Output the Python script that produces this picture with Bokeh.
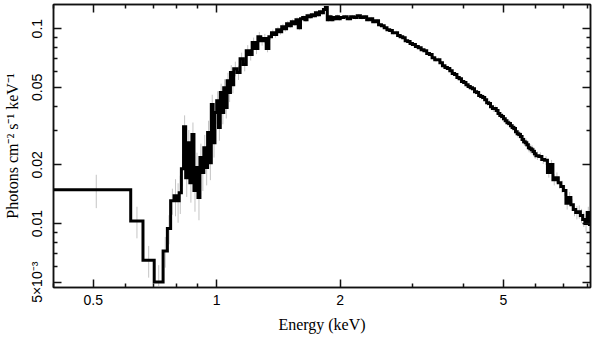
from bokeh.plotting import figure
from bokeh.models import Range1d, LogAxis, FixedTicker, CustomJSTickFormatter, ColumnDataSource
from bokeh.embed import file_html
from bokeh.resources import INLINE

# ---- data: bin lower edges (keV), flux (photons cm^-2 s^-1 keV^-1), 1-sigma errors ----
energy_lo = [
    0.400, 0.617, 0.661, 0.704, 0.740, 0.758, 0.772,
    0.787, 0.80, 0.81, 0.82, 0.83, 0.84, 0.85, 0.86, 0.87, 0.88, 0.89,
    0.90, 0.91, 0.92, 0.93, 0.94, 0.95, 0.96, 0.97, 0.98, 0.99,
    1.00, 1.01, 1.02, 1.03, 1.04, 1.05, 1.06, 1.07, 1.08, 1.09,
    1.10, 1.12, 1.14, 1.16, 1.18, 1.20, 1.22, 1.24, 1.26, 1.28,
    1.30,
    1.32, 1.34, 1.36, 1.38, 1.40, 1.42, 1.44, 1.46, 1.48,
    1.50, 1.52, 1.54, 1.56, 1.58, 1.60, 1.62, 1.64, 1.66, 1.68,
    1.70, 1.72, 1.74, 1.76, 1.78, 1.80, 1.82, 1.84, 1.86, 1.88,
    1.90, 1.92, 1.94, 1.96, 1.98,
    2.00, 2.04, 2.08, 2.12, 2.16, 2.20, 2.24, 2.28, 2.32, 2.36,
    2.40, 2.44, 2.48, 2.52, 2.56, 2.60, 2.64, 2.68, 2.72, 2.76,
    2.80, 2.84, 2.88, 2.92, 2.96,
    3.00, 3.05, 3.10, 3.15, 3.20, 3.25, 3.30, 3.35, 3.40, 3.45,
    3.50, 3.55, 3.60, 3.65, 3.70, 3.75, 3.80, 3.85, 3.90, 3.95,
    4.00, 4.05, 4.10, 4.15, 4.20, 4.25, 4.30, 4.35, 4.40, 4.45,
    4.50, 4.55, 4.60, 4.65, 4.70, 4.75, 4.80, 4.85, 4.90, 4.95,
    5.00, 5.05, 5.10, 5.15, 5.20, 5.25, 5.30, 5.35, 5.40, 5.45,
    5.50, 5.55, 5.60, 5.65, 5.70, 5.75, 5.80, 5.85, 5.90, 5.95,
    6.0, 6.1, 6.2, 6.3, 6.4, 6.5, 6.6, 6.7, 6.8, 6.9,
    7.0, 7.1, 7.2, 7.3, 7.4, 7.5, 7.6, 7.7, 7.8, 7.9,
    8.0, 8.1,
]
energy_hi_last = 8.2

flux = [
    0.0149, 0.0103, 0.00648, 0.00502, 0.00724, 0.00943, 0.0131,
    0.0139, 0.0131, 0.0144, 0.0191, 0.0314, 0.0172, 0.0260, 0.0162, 0.0286, 0.0148, 0.0194,
    0.0136, 0.0218, 0.0183, 0.0245, 0.0194, 0.0293, 0.0205, 0.0408, 0.0260, 0.0371,
    0.0427, 0.0311, 0.0470, 0.0371, 0.0498, 0.0394, 0.0541, 0.0470, 0.0595, 0.0516,
    0.0623, 0.0595, 0.0701, 0.0654, 0.0771, 0.0736, 0.0848, 0.0790, 0.0910, 0.0868,
    0.0890,
    0.0790, 0.0910, 0.0954, 0.0932, 0.0988, 0.0965, 0.1024, 0.1000, 0.1061,
    0.1036, 0.1086, 0.1061, 0.1112, 0.1012, 0.1125, 0.1139, 0.1112, 0.1166, 0.1152,
    0.1180, 0.1166, 0.1208, 0.1180, 0.1222, 0.1208, 0.1252, 0.1282, 0.1112, 0.1152,
    0.1112, 0.1139, 0.1125, 0.1152, 0.1125,
    0.1139, 0.1152, 0.1125, 0.1152, 0.1139, 0.1166, 0.1139, 0.1152, 0.1112, 0.1125,
    0.1086, 0.1099, 0.1048, 0.1036, 0.1012, 0.0988, 0.0977, 0.0954, 0.0954, 0.0921,
    0.0910, 0.0899, 0.0868, 0.0858, 0.0838,
    0.0828, 0.0809, 0.0799, 0.0780, 0.0771, 0.0745, 0.0736, 0.0710, 0.0693, 0.0693,
    0.0669, 0.0646, 0.0631, 0.0624, 0.0609, 0.0588, 0.0581, 0.0561, 0.0554, 0.0535,
    0.0529, 0.0516, 0.0505, 0.0498, 0.0492, 0.0475, 0.0470, 0.0454, 0.0448, 0.0443,
    0.0432, 0.0417, 0.0413, 0.0398, 0.0389, 0.0389, 0.0380, 0.0367, 0.0358, 0.0354,
    0.0345, 0.0337, 0.0329, 0.0326, 0.0318, 0.0311, 0.0307, 0.0296, 0.0289, 0.0286,
    0.0280, 0.0270, 0.0263, 0.0260, 0.0254, 0.0245, 0.0242, 0.0239, 0.0234, 0.0228,
    0.0223, 0.0221, 0.0213, 0.0211, 0.0183, 0.0201, 0.0168, 0.0172, 0.0162, 0.0155,
    0.0148, 0.0127, 0.0136, 0.0125, 0.0118, 0.0114, 0.0115, 0.0110, 0.0105, 0.0100,
    0.0114, 0.0099,
]

flux_err = [
    0.0029, 0.0019, 0.0012, 0.0011, 0.0013, 0.0016, 0.0020,
    0.0030, 0.0030, 0.0032, 0.0036, 0.0045, 0.0035, 0.0042, 0.0034, 0.0044, 0.0033, 0.0037,
    0.0032, 0.0039, 0.0036, 0.0040, 0.0037, 0.0044, 0.0038, 0.0050, 0.0042, 0.0048,
    0.0050, 0.0045, 0.0052, 0.0048, 0.0052, 0.0048, 0.0053, 0.0050, 0.0054, 0.0050,
    0.0054, 0.0050, 0.0052, 0.0050, 0.0052, 0.0050, 0.0052, 0.0050, 0.0052, 0.0050,
    0.0050,
    0.0034, 0.0034, 0.0034, 0.0034, 0.0034, 0.0034, 0.0034, 0.0034, 0.0034,
    0.0030, 0.0030, 0.0030, 0.0030, 0.0030, 0.0030, 0.0030, 0.0030, 0.0030, 0.0030,
    0.0028, 0.0028, 0.0028, 0.0028, 0.0028, 0.0028, 0.0028, 0.0028, 0.0028, 0.0028,
    0.0026, 0.0026, 0.0026, 0.0026, 0.0026,
    0.0024, 0.0024, 0.0024, 0.0024, 0.0024, 0.0024, 0.0024, 0.0024, 0.0024, 0.0024,
    0.0022, 0.0022, 0.0022, 0.0022, 0.0022, 0.0022, 0.0022, 0.0022, 0.0022, 0.0022,
    0.0020, 0.0020, 0.0020, 0.0020, 0.0020,
    0.0018, 0.0018, 0.0018, 0.0018, 0.0018, 0.0018, 0.0018, 0.0018, 0.0018, 0.0018,
    0.0016, 0.0016, 0.0016, 0.0016, 0.0016, 0.0016, 0.0016, 0.0016, 0.0016, 0.0016,
    0.0015, 0.0015, 0.0015, 0.0015, 0.0015, 0.0015, 0.0015, 0.0015, 0.0015, 0.0015,
    0.0015, 0.0015, 0.0015, 0.0015, 0.0015, 0.0015, 0.0015, 0.0015, 0.0015, 0.0015,
    0.0013, 0.0013, 0.0013, 0.0013, 0.0013, 0.0013, 0.0013, 0.0013, 0.0013, 0.0013,
    0.0013, 0.0013, 0.0013, 0.0013, 0.0013, 0.0013, 0.0013, 0.0013, 0.0013, 0.0013,
    0.0011, 0.0011, 0.0011, 0.0011, 0.0011, 0.0011, 0.0011, 0.0011, 0.0011, 0.0011,
    0.0009, 0.0009, 0.0009, 0.0009, 0.0009, 0.0009, 0.0009, 0.0009, 0.0009, 0.0009,
    0.0008, 0.0008,
]

# ---- ticks ----
x_major = [0.5, 1.0, 2.0, 5.0]
x_major_labels = ["0.5", "1", "2", "5"]
x_minor = [0.4, 0.6, 0.7, 0.8, 0.9, 3.0, 4.0, 6.0, 7.0, 8.0]
y_major = [0.005, 0.01, 0.02, 0.05, 0.1]
y_major_labels = ["5×10⁻³", "0.01", "0.02", "0.05", "0.1"]
y_minor = [0.006, 0.007, 0.008, 0.009, 0.03, 0.04, 0.06, 0.07, 0.08, 0.09]

x_label = "Energy (keV)"
y_label = "Photons cm⁻² s⁻¹ keV⁻¹"

# ---- derived sources ----
n = min(len(energy_lo), len(flux), len(flux_err))
edges = energy_lo[:n] + [energy_hi_last]
step_src = ColumnDataSource(dict(x=edges, y=flux[:n] + [flux[n - 1]]))
centers = [0.5 * (edges[i] + edges[i + 1]) for i in range(n)]
err_src = ColumnDataSource(dict(
    x=centers,
    y0=[flux[i] - flux_err[i] for i in range(n)],
    y1=[flux[i] + flux_err[i] for i in range(n)],
))

p = figure(
    width=593, height=341,
    x_axis_type="log", y_axis_type="log",
    x_range=Range1d(0.4, 8.15), y_range=Range1d(0.0047, 0.133),
    output_backend="svg", toolbar_location=None,
    min_border_left=47, min_border_right=3, min_border_top=4, min_border_bottom=54,
    background_fill_color="white", border_fill_color="white",
)
p.grid.visible = False
p.outline_line_color = "#111111"
p.outline_line_width = 1.5

p.segment(x0="x", y0="y0", x1="x", y1="y1", source=err_src,
          line_color="#c4c4c4", line_width=1)
p.step(x="x", y="y", source=step_src, mode="after",
       line_color="black", line_width=3, line_join="miter")

def fmt(vals, labs):
    return CustomJSTickFormatter(args=dict(vals=vals, labs=labs), code="""
        for (let i = 0; i < vals.length; i++) {
            if (Math.abs(tick - vals[i]) <= 1e-6 * vals[i]) { return labs[i]; }
        }
        return "";
    """)

blank = CustomJSTickFormatter(code="return '';")

def style(ax):
    ax.axis_line_color = "#111111"
    ax.axis_line_width = 1.5
    ax.major_tick_line_color = "#111111"
    ax.minor_tick_line_color = "#111111"
    ax.major_tick_line_width = 1.5
    ax.minor_tick_line_width = 1.5
    ax.major_tick_in = 8
    ax.major_tick_out = 0
    ax.minor_tick_in = 4
    ax.minor_tick_out = 0
    ax.major_label_text_font = "Liberation Sans"
    ax.major_label_text_font_size = "14px"
    ax.major_label_text_color = "black"
    ax.axis_label_text_font = "Liberation Serif"
    ax.axis_label_text_font_size = "16px"
    ax.axis_label_text_font_style = "normal"
    ax.axis_label_text_color = "black"

xa = p.xaxis[0]
xa.ticker = FixedTicker(ticks=x_major, minor_ticks=x_minor)
xa.formatter = fmt(x_major, x_major_labels)
style(xa)
xa.major_label_standoff = 7
xa.axis_label = x_label
xa.axis_label_standoff = 8

ya = p.yaxis[0]
ya.ticker = FixedTicker(ticks=y_major, minor_ticks=y_minor)
ya.formatter = fmt(y_major, y_major_labels)
style(ya)
ya.major_label_orientation = "vertical"
ya.major_label_standoff = 8
ya.axis_label = y_label
ya.axis_label_standoff = 6

top = LogAxis(ticker=FixedTicker(ticks=x_major, minor_ticks=x_minor), formatter=blank)
style(top)
top.major_label_text_font_size = "0px"
top.major_label_text_alpha = 0
top.major_label_standoff = 0
p.add_layout(top, "above")

right = LogAxis(ticker=FixedTicker(ticks=y_major, minor_ticks=y_minor), formatter=blank)
style(right)
right.major_label_text_font_size = "0px"
right.major_label_text_alpha = 0
right.major_label_standoff = 0
p.add_layout(right, "right")

open("out.html", "w").write(file_html(p, INLINE))
